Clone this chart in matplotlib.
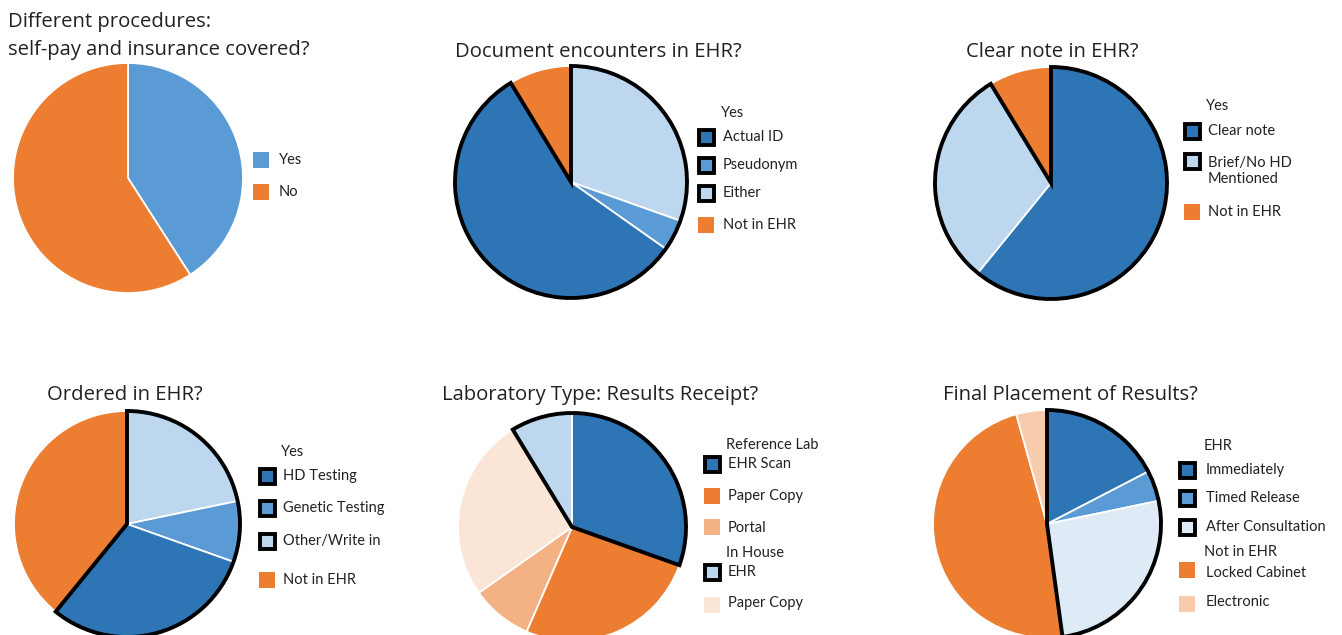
import numpy as np
import matplotlib
matplotlib.use('Agg')
import matplotlib.pyplot as plt
from matplotlib.patches import Wedge, Rectangle

# survey counts (n=22/23), in legend order
p1_labels = ['Yes', 'No']
p1_values = [9, 13]
p2_labels = ['Actual ID', 'Pseudonym', 'Either', 'Not in EHR']
p2_values = [13, 1, 7, 2]
p3_labels = ['Clear note', 'Brief/No HD\nMentioned', 'Not in EHR']
p3_values = [14, 7, 2]
p4_labels = ['HD Testing', 'Genetic Testing', 'Other/Write in', 'Not in EHR']
p4_values = [7, 2, 5, 9]
p5_labels = ['EHR Scan', 'Paper Copy', 'Portal', 'EHR', 'Paper Copy']
p5_values = [7, 6, 2, 2, 6]
p6_labels = ['Immediately', 'Timed Release', 'After Consultation', 'Locked Cabinet', 'Electronic']
p6_values = [4, 1, 6, 11, 1]

titles = ['Different procedures:\nself-pay and insurance covered?',
          'Document encounters in EHR?', 'Clear note in EHR?',
          'Ordered in EHR?', 'Laboratory Type: Results Receipt?',
          'Final Placement of Results?']

DARK = '#2E75B6'
MID = '#5B9BD5'
LIGHT = '#BDD7EE'
PALE = '#DEEBF7'
ORANGE = '#ED7D31'
LORANGE = '#F4B183'
PEACH = '#FBE5D6'
PEACH2 = '#F8CBAD'

W, H = 1342, 635
fig = plt.figure(figsize=(W / 100, H / 100), dpi=100)
ax = fig.add_axes([0, 0, 1, 1])

TFONT = 'Open Sans'
LFONT = 'Lato'
TXT = '#222222'
TSIZE = 14.6

# each pie: values, labels, colors, clockwise order from 12, outlined items,
# center (px), radius, legend layout
pies = [
    dict(vals=p1_values, labs=p1_labels, cols=[MID, ORANGE], order=[0, 1], outl=[],
         c=(128, 178), r=115, sqx=261, tx=279,
         rows=[('i', 0, 160, 160), ('i', 1, 192, 192)]),
    dict(vals=p2_values, labs=p2_labels, cols=[DARK, MID, LIGHT, ORANGE], order=[2, 1, 0, 3],
         outl=[0, 1, 2], c=(571, 182), r=116, sqx=706, tx=723,
         rows=[('h', 'Yes', 113), ('i', 0, 137, 137), ('i', 1, 165, 165), ('i', 2, 193, 193),
               ('i', 3, 225, 225)]),
    dict(vals=p3_values, labs=p3_labels, cols=[DARK, LIGHT, ORANGE], order=[0, 1, 2],
         outl=[0, 1], c=(1051, 183), r=116, sqx=1192, tx=1208,
         rows=[('h', 'Yes', 106), ('i', 0, 131, 131), ('i', 1, 161, 171), ('i', 2, 212, 212)]),
    dict(vals=p4_values, labs=p4_labels, cols=[DARK, MID, LIGHT, ORANGE], order=[2, 1, 0, 3],
         outl=[0, 1, 2], c=(127, 524), r=113, sqx=267, tx=283,
         rows=[('h', 'Yes', 452), ('i', 0, 476, 476), ('i', 1, 508, 508), ('i', 2, 541, 541),
               ('i', 3, 580, 580)]),
    dict(vals=p5_values, labs=p5_labels, cols=[DARK, ORANGE, LORANGE, LIGHT, PEACH],
         order=[0, 1, 2, 4, 3], outl=[3, 0], c=(572, 527), r=114, sqx=712, tx=728,
         rows=[('h', 'Reference Lab', 445), ('i', 0, 464, 464), ('i', 1, 496, 496),
               ('i', 2, 527, 528), ('h', 'In House', 553), ('i', 3, 572, 572),
               ('i', 4, 605, 603)]),
    dict(vals=p6_values, labs=p6_labels, cols=[DARK, MID, PALE, ORANGE, PEACH2],
         order=[0, 1, 2, 3, 4], outl=[0, 1, 2], c=(1047, 524), r=114, sqx=1187, tx=1206,
         rows=[('h', 'EHR', 446), ('i', 0, 470, 470), ('i', 1, 498, 498), ('i', 2, 527, 527),
               ('h', 'Not in EHR', 552), ('i', 3, 570, 573), ('i', 4, 604, 602)]),
]

for p in pies:
    vals = np.array(p['vals'], dtype=float)
    order = p['order']
    cx, cy = p['c'][0], H - p['c'][1]
    ax.pie(vals[order], colors=[p['cols'][i] for i in order], startangle=90,
           counterclock=False, center=(cx, cy), radius=p['r'], frame=True,
           wedgeprops=dict(edgecolor='white', linewidth=1.3))
    # black outline round the highlighted group (contiguous in pie order, may wrap)
    if p['outl']:
        frac = vals[order] / vals.sum() * 360
        cum = np.concatenate([[0], np.cumsum(frac)])
        pos = [order.index(i) for i in p['outl']]
        n = len(order)
        first = [k for k in pos if (k - 1) % n not in pos][0]
        ext = sum(frac[k] for k in pos)
        t2 = 90 - cum[first]
        ax.add_patch(Wedge((cx, cy), p['r'], t2 - ext, t2, fill=False,
                           edgecolor='black', linewidth=2.8, joinstyle='miter'))
    # legend
    for row in p['rows']:
        if row[0] == 'h':
            ax.text(p['tx'] - 2, H - row[2], row[1], fontsize=10.5, family=LFONT,
                    color=TXT, va='center', ha='left')
            continue
        i, ys, yt = row[1], row[2], row[3]
        if i in p['outl']:
            s = 15
            ax.add_patch(Rectangle((p['sqx'] - s / 2, H - ys - s / 2), s, s,
                                   facecolor=p['cols'][i], edgecolor='black', linewidth=2.8))
        else:
            s = 16
            ax.add_patch(Rectangle((p['sqx'] - s / 2, H - ys - s / 2), s, s,
                                   facecolor=p['cols'][i], edgecolor='none'))
        ax.text(p['tx'], H - yt, p['labs'][i], fontsize=10.5, family=LFONT, color=TXT,
                va='center', ha='left', linespacing=1.15)

# titles
ax.text(8, H - 22, 'Different procedures:', fontsize=TSIZE, family=TFONT, color=TXT,
        va='center', ha='left')
ax.text(8, H - 50, 'self-pay and insurance covered?', fontsize=TSIZE, family=TFONT,
        color=TXT, va='center', ha='left')
tpos = [(598, 52), (1052, 52), (125, 395), (600, 395), (1070, 395)]
for t, (x, y) in zip(titles[1:], tpos):
    ax.text(x, H - y, t, fontsize=TSIZE, family=TFONT, color=TXT, va='center', ha='center')

ax.set_xlim(0, W)
ax.set_ylim(0, H)
ax.set_aspect('auto')
ax.axis('off')

plt.savefig('out.png', dpi=100)
